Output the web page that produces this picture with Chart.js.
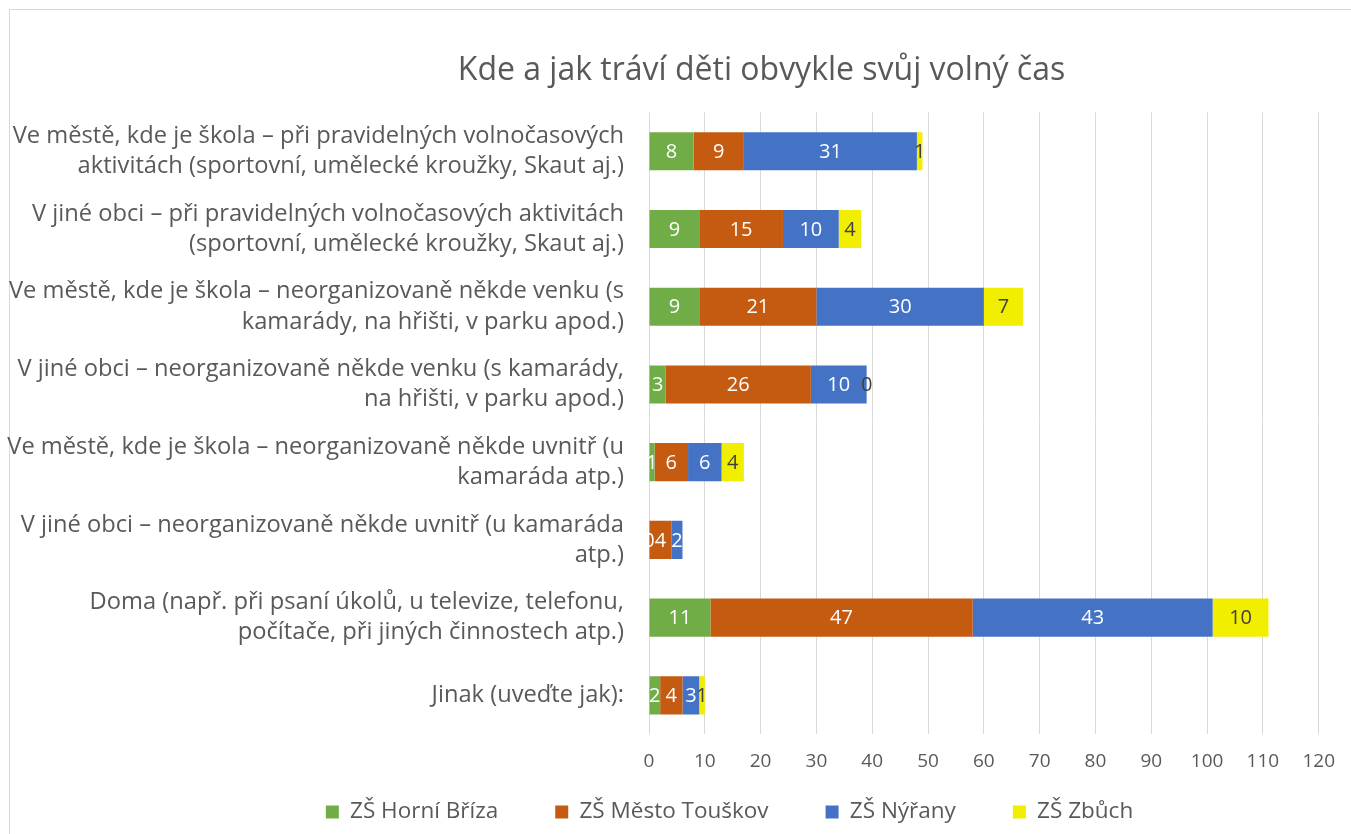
<!DOCTYPE html>
<html lang="cs">
<head>
<meta charset="utf-8">
<title>Kde a jak tráví děti obvykle svůj volný čas</title>
<script src="https://cdn.jsdelivr.net/npm/chart.js@4"></script>
<style>
  html, body { margin: 0; padding: 0; background: #fff; overflow: hidden; }
  #wrap { position: relative; width: 1351px; height: 834px; }
  #frame { position: absolute; left: 9px; top: 9px; width: 1400px; height: 900px; border: 1px solid #d9d9d9; }
  #chart { position: absolute; left: 0; top: 0; }
</style>
</head>
<body>
<div id="wrap">
  <div id="frame"></div>
  <canvas id="chart" width="1351" height="834"></canvas>
</div>
<script>
// categories (y axis)
const categories = [
    ['Ve městě, kde je škola – při pravidelných volnočasových', 'aktivitách (sportovní, umělecké kroužky, Skaut aj.)'],
    ['V jiné obci – při pravidelných volnočasových aktivitách', '(sportovní, umělecké kroužky, Skaut aj.)'],
    ['Ve městě, kde je škola – neorganizovaně někde venku (s', 'kamarády, na hřišti, v parku apod.)'],
    ['V jiné obci – neorganizovaně někde venku (s kamarády,', 'na hřišti, v parku apod.)'],
    ['Ve městě, kde je škola – neorganizovaně někde uvnitř (u', 'kamaráda atp.)'],
    ['V jiné obci – neorganizovaně někde uvnitř (u kamaráda', 'atp.)'],
    ['Doma (např. při psaní úkolů, u televize, telefonu,', 'počítače, při jiných činnostech atp.)'],
    'Jinak (uveďte jak):'
];

// series
const seriesNames = ['ZŠ Horní Bříza', 'ZŠ Město Touškov', 'ZŠ Nýřany', 'ZŠ Zbůch'];
const horniBriza   = [8, 9, 9, 3, 1, 0, 11, 2];
const mestoTouskov = [9, 15, 21, 26, 6, 4, 47, 4];
const nyrany       = [31, 10, 30, 10, 6, 2, 43, 3];
const zbuch        = [1, 4, 7, 0, 4, null, 10, 1];

// x axis ticks
const xMin = 0;
const xMax = 120;
const xStep = 10;

const colors = ['#70AD47', '#C55A11', '#4472C4', '#F2EE00'];
const labelColors = ['#ffffff', '#ffffff', '#ffffff', '#404040'];
const textColor = '#595959';
const fontFamily = '"Open Sans", Lato, sans-serif';

Chart.defaults.font.family = fontFamily;
Chart.defaults.color = textColor;

// draws the value in the middle of each segment
const valueLabels = {
    id: 'valueLabels',
    afterDatasetsDraw(chart) {
        const ctx = chart.ctx;
        ctx.save();
        ctx.font = '20px ' + fontFamily;
        ctx.textAlign = 'center';
        ctx.textBaseline = 'middle';
        chart.data.datasets.forEach((ds, di) => {
            const meta = chart.getDatasetMeta(di);
            meta.data.forEach((bar, i) => {
                const v = ds.data[i];
                if (v === null || v === undefined) return;
                ctx.fillStyle = labelColors[di];
                ctx.fillText(String(v), (bar.x + bar.base) / 2, bar.y + 1);
            });
        });
        ctx.restore();
    }
};

// Excel centres title and legend on the whole chart object, not on the plot
const shiftBlocks = {
    id: 'shiftBlocks',
    afterLayout(chart) {
        if (chart.titleBlock) {
            chart.titleBlock.left += 98;
            chart.titleBlock.right += 98;
        }
        const lg = chart.legend;
        if (lg) {
            lg.left += 66;
            lg.right += 66;
            lg.top = 812 - 57 - 11.25;
            lg.bottom = chart.height;
            lg.height = lg.bottom - lg.top;
        }
    }
};

const datasets = [horniBriza, mestoTouskov, nyrany, zbuch].map((d, i) => ({
    label: seriesNames[i],
    data: d,
    backgroundColor: colors[i],
    borderWidth: 0,
    categoryPercentage: 1,
    barPercentage: 0.49
}));

new Chart(document.getElementById('chart'), {
    type: 'bar',
    data: { labels: categories, datasets: datasets },
    options: {
        indexAxis: 'y',
        responsive: false,
        animation: false,
        devicePixelRatio: 1,
        layout: { padding: { left: 0, right: 24, top: 0, bottom: 0 } },
        scales: {
            x: {
                stacked: true,
                min: xMin,
                max: xMax,
                border: { display: false },
                grid: { color: '#d9d9d9', lineWidth: 1, drawTicks: false },
                ticks: { stepSize: xStep, padding: 16, color: textColor, font: { size: 19 } }
            },
            y: {
                stacked: true,
                border: { display: false },
                grid: { display: false, drawTicks: false },
                ticks: { padding: 25, color: textColor, font: { size: 23.7, lineHeight: 1.27 }, autoSkip: false },
                afterFit(scale) { scale.width = 649; }
            }
        },
        plugins: {
            title: {
                display: true,
                text: 'Kde a jak tráví děti obvykle svůj volný čas',
                color: textColor,
                font: { size: 32, weight: 'normal' },
                padding: { top: 52, bottom: 22 }
            },
            legend: {
                position: 'bottom',
                maxHeight: 45,
                labels: {
                    boxWidth: 13,
                    boxHeight: 13,
                    padding: 57,
                    color: textColor,
                    font: { size: 22.5 }
                }
            },
            tooltip: { enabled: false }
        }
    },
    plugins: [valueLabels, shiftBlocks]
});
</script>
</body>
</html>
